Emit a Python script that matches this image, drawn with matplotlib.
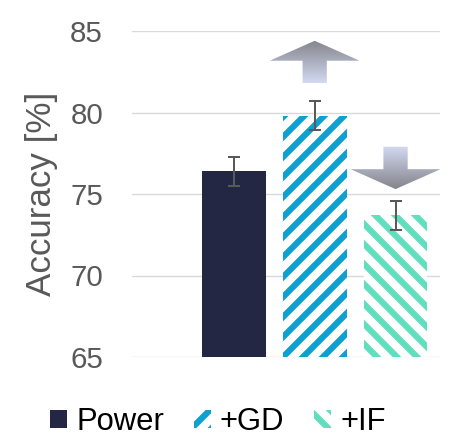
import numpy as np
import matplotlib

matplotlib.use("Agg")
import matplotlib.pyplot as plt
from matplotlib.patches import Patch, Polygon
from matplotlib.colors import LinearSegmentedColormap

# data
labels = ["Power", "+GD", "+IF"]
accuracy = [76.4, 79.8, 73.7]
err = [0.9, 0.9, 0.9]
yticks = [65, 70, 75, 80, 85]

# gradient arrows: (bar index, base y, tip y)
arrows = [(1, 81.8, 84.4), (2, 77.9, 75.3)]

FACES = ["#242743", "white", "white"]
HATCH_COLORS = ["#242743", "#0fa0d2", "#60dfbf"]
HATCHES = [None, "/", "\\"]
TICK_GRAY = "#595959"
GRID_COLOR = "#d9d9d9"

# dpi picked so the hatch spacing matches the wide stripes of the original
DPI = 60


def px(v):
    """pixel size -> points at this dpi"""
    return v * 72 / DPI


plt.rcParams["font.family"] = ["Liberation Sans", "DejaVu Sans"]
plt.rcParams["hatch.linewidth"] = px(6.2)

fig = plt.figure(figsize=(451 / DPI, 438 / DPI), dpi=DPI)
ax = fig.add_axes([132 / 451, 1 - 357 / 438, 308 / 451, 326 / 438])

x = np.arange(len(labels))
for i in x:
    ax.bar(i, accuracy[i], width=0.79, bottom=0, color=FACES[i],
           edgecolor=HATCH_COLORS[i], hatch=HATCHES[i], lw=0, zorder=2)
ax.errorbar(x, accuracy, yerr=err, fmt="none", ecolor=TICK_GRAY,
            elinewidth=px(2), capsize=px(6), capthick=px(2), zorder=3)

cmap = LinearSegmentedColormap.from_list("arr", ["#d2d9f2", "#84848b"])
head_hw, shaft_hw = 0.556, 0.15
for xi, base, tip in arrows:
    length = tip - base
    neck = base + length * 0.53
    pts = [(xi - shaft_hw, base), (xi + shaft_hw, base), (xi + shaft_hw, neck),
           (xi + head_hw, neck), (xi, tip), (xi - head_hw, neck),
           (xi - shaft_hw, neck)]
    poly = Polygon(pts, closed=True, facecolor="none", edgecolor="none")
    ax.add_patch(poly)
    grad = np.linspace(0, 1, 256).reshape(-1, 1)
    lo, hi = min(base, tip), max(base, tip)
    if tip < base:
        grad = grad[::-1]
    im = ax.imshow(grad, cmap=cmap, aspect="auto", origin="lower",
                   extent=(xi - head_hw, xi + head_hw, lo, hi), zorder=4)
    im.set_clip_path(poly)

ax.set_xlim(-1.26, 2.55)
ax.set_ylim(65, 85)
ax.set_yticks(yticks)
ax.set_xticks([])
ax.grid(axis="y", color=GRID_COLOR, lw=px(1.4), zorder=0)
ax.set_axisbelow(True)
for s in ax.spines.values():
    s.set_visible(False)
ax.tick_params(axis="y", length=0, pad=px(29), labelsize=px(29.5),
               labelcolor=TICK_GRAY)
ax.set_ylabel("Accuracy [%]", fontsize=px(35), color=TICK_GRAY)
ax.yaxis.set_label_coords(-0.24, 0.5)

handles = [Patch(facecolor=FACES[i], edgecolor=HATCH_COLORS[i], hatch=HATCHES[i],
                 lw=0, label=labels[i]) for i in x]
fig.legend(handles=handles, loc="center", bbox_to_anchor=(0.483, 1 - 422 / 438),
           ncol=3, frameon=False, fontsize=px(31), handlelength=0.55,
           handleheight=0.55, handletextpad=0.3, columnspacing=0.95,
           borderpad=0, borderaxespad=0)

fig.savefig("out.png", dpi=DPI)
